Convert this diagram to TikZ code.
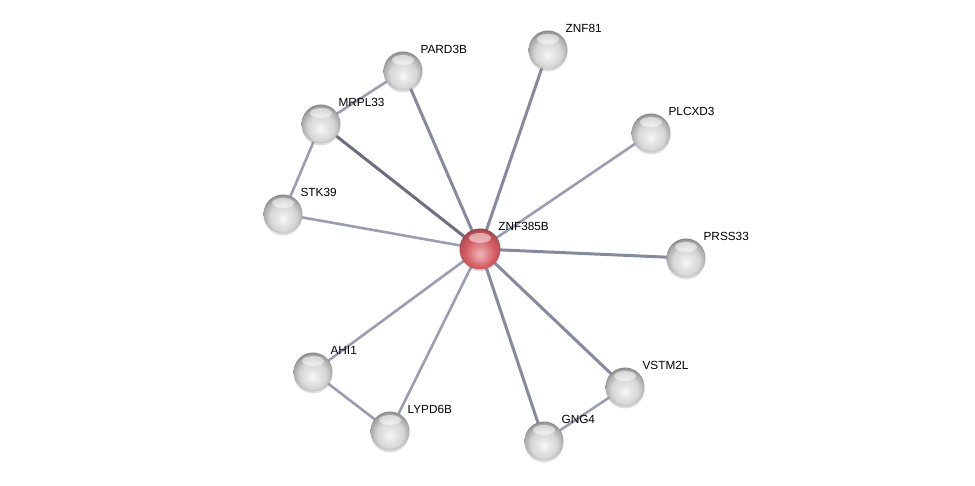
\documentclass[tikz,border=0pt]{standalone}
\usepackage{fontspec}
\setmainfont{Liberation Sans}
\definecolor{edgegray}{HTML}{858A9E}
\definecolor{edgelight}{HTML}{9A9EB0}
\definecolor{ballred}{HTML}{D65E66}
\usetikzlibrary{shadows,backgrounds}
\pgfdeclareradialshading{greyball}{\pgfpoint{0bp}{-7bp}}{color(0bp)=(white!97!black); color(8bp)=(white!90!black);
  color(17bp)=(white!84!black); color(25bp)=(white!66!black); color(30bp)=(white!45!black); color(50bp)=(white!45!black)}
\pgfdeclareradialshading{redball}{\pgfpoint{0bp}{-7bp}}{color(0bp)=(ballred!45!white); color(8bp)=(ballred!70!white);
  color(17bp)=(ballred); color(25bp)=(ballred!85!black); color(30bp)=(ballred!60!black); color(50bp)=(ballred!60!black)}

\begin{document}
\begin{tikzpicture}[x=1pt, y=-1pt,
  prot/.style={circle, minimum size=39pt, inner sep=0pt, shading=greyball,
               drop shadow={shadow xshift=0pt, shadow yshift=-2pt, opacity=0.25},
               path picture={\fill[white, opacity=0.5] ([yshift=11pt]path picture bounding box.center)
                 ellipse (11pt and 5pt);}},
  query/.style={prot, shading=redball},
  lbl/.style={font=\fontsize{11.8}{13}\selectfont, inner sep=1pt, label distance=3.5pt},
  edge/.style={draw=edgegray, line width=3pt},
  weak/.style={draw=edgelight, line width=2.6pt}
]
  \useasboundingbox (0,0) rectangle (975,486);

  \node[query, minimum size=41pt, label={[lbl]45:ZNF385B}] (znf385) at (480,249) {};

  \node[prot, label={[lbl]45:PARD3B}] (pard) at (403,71) {};
  \node[prot, label={[lbl]45:MRPL33}] (mrpl) at (321,124) {};
  \node[prot, label={[lbl]45:STK39}] (stk) at (283,214) {};
  \node[prot, label={[lbl]45:ZNF81}] (znf81) at (548,50) {};
  \node[prot, label={[lbl]45:PLCXD3}] (plc) at (651,133) {};
  \node[prot, label={[lbl]45:PRSS33}] (prss) at (686,258) {};
  \node[prot, label={[lbl]45:AHI1}] (ahi) at (313,372) {};
  \node[prot, label={[lbl]45:LYPD6B}] (lypd) at (390,431) {};
  \node[prot, label={[lbl]45:GNG4}] (gng) at (544,441) {};
  \node[prot, label={[lbl]45:VSTM2L}] (vstm) at (625,387) {};

  % edges go under the balls
  \begin{scope}[on background layer]
    \draw[weak] (pard.center) -- (mrpl.center);
    \draw[weak] (mrpl.center) -- (stk.center);
    \draw[weak] (ahi.center) -- (lypd.center);
    \draw[weak] (gng.center) -- (vstm.center);

    \draw[edge] (znf385.center) -- (pard.center);
    \draw[edge, draw=edgegray!80!black] (znf385.center) -- (mrpl.center);
    \draw[weak] (znf385.center) -- (stk.center);
    \draw[edge] (znf385.center) -- (znf81.center);
    \draw[weak] (znf385.center) -- (plc.center);
    \draw[edge] (znf385.center) -- (prss.center);
    \draw[weak] (znf385.center) -- (ahi.center);
    \draw[weak] (znf385.center) -- (lypd.center);
    \draw[edge] (znf385.center) -- (gng.center);
    \draw[edge] (znf385.center) -- (vstm.center);
  \end{scope}

\end{tikzpicture}
\end{document}
